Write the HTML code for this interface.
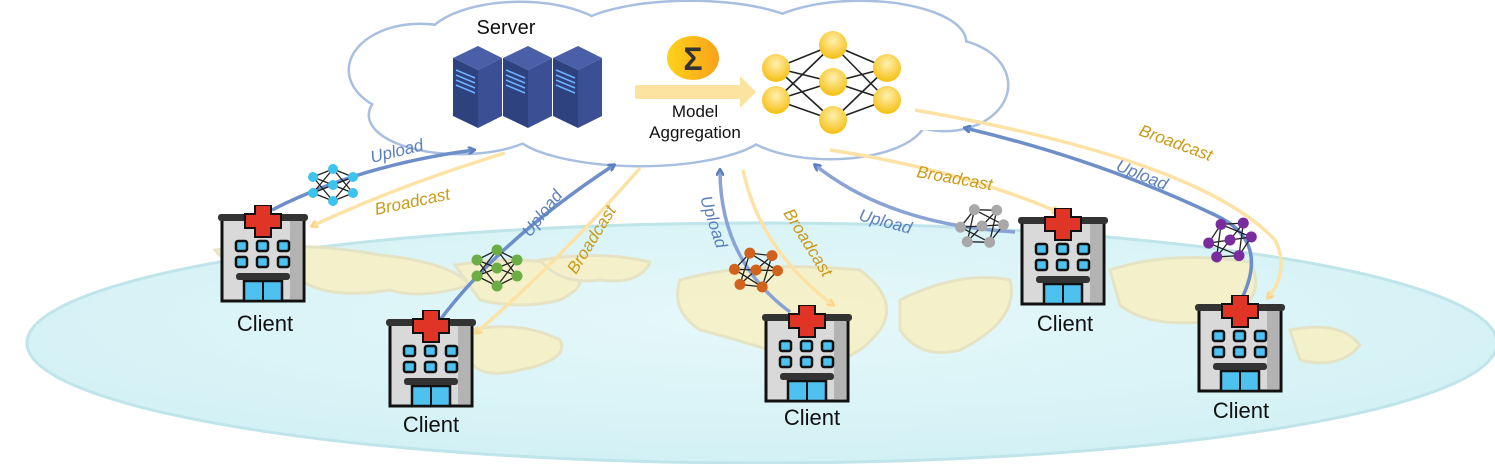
<!DOCTYPE html>
<html><head><meta charset="utf-8"><style>
html,body{margin:0;padding:0;background:#fff;}
svg{display:block;}
text{font-family:"Liberation Sans",sans-serif;}
</style></head><body>
<svg width="1495" height="464" viewBox="0 0 1495 464" xmlns="http://www.w3.org/2000/svg">
<defs>
<radialGradient id="earth" cx="50%" cy="40%" r="60%">
<stop offset="0" stop-color="#e6f8fa"/><stop offset="1" stop-color="#d2f1f5"/>
</radialGradient>
<radialGradient id="node" cx="50%" cy="35%" r="60%">
<stop offset="0" stop-color="#fff0b0"/><stop offset="1" stop-color="#f6c21c"/>
</radialGradient>
<linearGradient id="sig" x1="0" x2="1"><stop offset="0" stop-color="#ffd21a"/><stop offset="1" stop-color="#f7a21a"/></linearGradient>
<marker id="ab" markerWidth="8" markerHeight="8" refX="6" refY="4" orient="auto" markerUnits="userSpaceOnUse"><path d="M0,0 L7,4 L0,8" fill="none" stroke="#5b7fbf" stroke-width="2.5"/></marker>
<marker id="ay" markerWidth="8" markerHeight="8" refX="6" refY="4" orient="auto" markerUnits="userSpaceOnUse"><path d="M0,0 L7,4 L0,8" fill="none" stroke="#fdd58a" stroke-width="2.5"/></marker>
<symbol id="hosp" viewBox="0 0 90 100" width="90" height="100">
<rect x="4" y="12" width="82" height="84" fill="#d9d9d9" stroke="#111" stroke-width="3"/>
<rect x="72" y="14" width="12" height="80" fill="#b3b3b3"/>
<rect x="0" y="9" width="90" height="7" rx="3" fill="#333"/>
<path d="M37,0 h16 v9 h10 v14 h-10 v9 h-16 v-9 h-10 v-14 h10z" fill="#e03526" stroke="#111" stroke-width="2"/>
<g fill="#4fc1ef" stroke="#111" stroke-width="2.5">
<rect x="18" y="36" width="11" height="10" rx="2"/><rect x="39" y="36" width="11" height="10" rx="2"/><rect x="60" y="36" width="11" height="10" rx="2"/>
<rect x="18" y="52" width="11" height="10" rx="2"/><rect x="39" y="52" width="11" height="10" rx="2"/><rect x="60" y="52" width="11" height="10" rx="2"/>
<rect x="26" y="76" width="38" height="20" fill="#4fc1ef"/>
</g>
<rect x="18" y="68" width="54" height="7" rx="3" fill="#333"/>
<line x1="45" y1="76" x2="45" y2="96" stroke="#111" stroke-width="2"/>
</symbol>
</defs>

<!-- earth -->
<ellipse cx="762" cy="343" rx="735" ry="120" fill="url(#earth)" stroke="#bfe4ea" stroke-width="3"/>
<g fill="#f7f1c6" stroke="#e6e2bf" stroke-width="3" opacity="0.9">
<path d="M215,250 Q300,240 380,255 Q450,262 470,285 Q420,300 390,290 Q330,300 300,280 Q240,280 215,250z"/>
<path d="M455,265 Q520,255 560,265 Q600,280 560,300 Q520,310 480,300z"/>
<path d="M540,260 Q600,250 650,262 Q640,285 600,280 Q560,285 540,260z"/>
<path d="M470,330 Q520,320 560,340 Q570,360 520,370 Q480,380 470,360z"/>
<path d="M680,280 Q750,260 860,270 Q900,300 880,330 Q850,370 800,360 Q740,340 700,330 Q670,310 680,280z"/>
<path d="M900,300 Q960,270 1010,280 Q1020,320 960,350 Q920,360 900,330z"/>
<path d="M1110,270 Q1170,250 1250,262 Q1270,300 1220,320 Q1150,330 1120,305z"/>
<path d="M1290,330 Q1340,320 1360,345 Q1340,370 1300,360z"/>
</g>

<!-- cloud -->
<g stroke="#a9bfe0" stroke-width="5" fill="#fff">
<ellipse cx="420" cy="70" rx="70" ry="45"/>
<ellipse cx="520" cy="45" rx="95" ry="42"/>
<ellipse cx="690" cy="38" rx="120" ry="36"/>
<ellipse cx="860" cy="42" rx="105" ry="40"/>
<ellipse cx="945" cy="85" rx="62" ry="45"/>
<ellipse cx="830" cy="118" rx="95" ry="40"/>
<ellipse cx="640" cy="125" rx="130" ry="40"/>
<ellipse cx="460" cy="115" rx="90" ry="38"/>
</g>
<g fill="#fff">
<ellipse cx="420" cy="70" rx="70" ry="45"/>
<ellipse cx="520" cy="45" rx="95" ry="42"/>
<ellipse cx="690" cy="38" rx="120" ry="36"/>
<ellipse cx="860" cy="42" rx="105" ry="40"/>
<ellipse cx="945" cy="85" rx="62" ry="45"/>
<ellipse cx="830" cy="118" rx="95" ry="40"/>
<ellipse cx="640" cy="125" rx="130" ry="40"/>
<ellipse cx="460" cy="115" rx="90" ry="38"/>
<rect x="420" y="50" width="520" height="80"/>
</g>

<!-- server -->
<text x="506" y="34" font-size="20" text-anchor="middle" fill="#111">Server</text>
<g>
<g id="srv">
<polygon points="453,58 478,46 502,58 478,70" fill="#4a5fa8"/>
<polygon points="453,58 478,70 478,128 453,116" fill="#2e4280"/>
<polygon points="478,70 502,58 502,116 478,128" fill="#3b4f94"/>
<g stroke="#6fb0ff" stroke-width="1.6">
<line x1="456" y1="70" x2="475" y2="78"/><line x1="456" y1="75" x2="475" y2="83"/><line x1="456" y1="80" x2="475" y2="88"/><line x1="456" y1="85" x2="475" y2="93"/>
</g>
</g>
<use href="#srv" transform="translate(50,0)"/>
<use href="#srv" transform="translate(100,0)"/>
</g>

<!-- sigma -->
<ellipse cx="693" cy="58" rx="26" ry="22" fill="url(#sig)"/>
<text x="693" y="70" font-size="32" text-anchor="middle" fill="#333" font-weight="bold">Σ</text>
<polygon points="635,85 740,85 740,76 756,92 740,108 740,99 635,99" fill="#fde3a0"/>
<text x="695" y="117" font-size="17" text-anchor="middle" fill="#111">Model</text>
<text x="695" y="138" font-size="17" text-anchor="middle" fill="#111">Aggregation</text>

<!-- NN -->
<g stroke="#222" stroke-width="1.6">
<line x1="776" y1="68" x2="833" y2="45"/><line x1="776" y1="68" x2="833" y2="82"/><line x1="776" y1="68" x2="833" y2="120"/>
<line x1="776" y1="100" x2="833" y2="45"/><line x1="776" y1="100" x2="833" y2="82"/><line x1="776" y1="100" x2="833" y2="120"/>
<line x1="887" y1="68" x2="833" y2="45"/><line x1="887" y1="68" x2="833" y2="82"/><line x1="887" y1="68" x2="833" y2="120"/>
<line x1="887" y1="100" x2="833" y2="45"/><line x1="887" y1="100" x2="833" y2="82"/><line x1="887" y1="100" x2="833" y2="120"/>
</g>
<g fill="url(#node)">
<circle cx="776" cy="68" r="14"/><circle cx="776" cy="100" r="14"/>
<circle cx="833" cy="45" r="14"/><circle cx="833" cy="82" r="14"/><circle cx="833" cy="120" r="14"/>
<circle cx="887" cy="68" r="14"/><circle cx="887" cy="100" r="14"/>
</g>

<!-- arrows -->
<g fill="none" stroke-width="3.5">
<path d="M272,210 Q360,165 474,150" stroke="#6d8ec8" marker-end="url(#ab)"/>
<path d="M505,153 Q400,185 312,226" stroke="#fde2a6" marker-end="url(#ay)"/>
<path d="M440,320 Q500,240 614,165" stroke="#6d8ec8" marker-end="url(#ab)"/>
<path d="M640,168 Q560,260 476,333" stroke="#fde2a6" marker-end="url(#ay)"/>
<path d="M790,312 Q720,260 720,170" stroke="#8aa3d6" marker-end="url(#ab)"/>
<path d="M743,170 Q760,250 833,305" stroke="#fde2a6" marker-end="url(#ay)"/>
<path d="M1015,232 Q890,225 815,165" stroke="#8aa3d6" marker-end="url(#ab)"/>
<path d="M830,150 Q960,170 1058,212" stroke="#fde2a6" marker-end="url(#ay)"/>
<path d="M1242,298 Q1270,240 1215,215 Q1100,160 965,128" stroke="#6d8ec8" marker-end="url(#ab)"/>
<path d="M915,110 Q1200,160 1275,240 Q1290,270 1268,298" stroke="#fde2a6" marker-end="url(#ay)"/>
</g>
<g font-size="17" font-style="italic">
<text transform="translate(372,163) rotate(-14)" fill="#5b7fbf">Upload</text>
<text transform="translate(376,215) rotate(-12)" fill="#c99a1a">Broadcast</text>
<text transform="translate(530,238) rotate(-52)" fill="#5b7fbf">Upload</text>
<text transform="translate(576,275) rotate(-58)" fill="#c99a1a">Broadcast</text>
<text transform="translate(700,198) rotate(72)" fill="#5b7fbf">Upload</text>
<text transform="translate(783,213) rotate(58)" fill="#c99a1a">Broadcast</text>
<text transform="translate(858,220) rotate(15)" fill="#5b7fbf">Upload</text>
<text transform="translate(916,177) rotate(10)" fill="#c99a1a">Broadcast</text>
<text transform="translate(1115,170) rotate(22)" fill="#5b7fbf">Upload</text>
<text transform="translate(1138,135) rotate(20)" fill="#c99a1a">Broadcast</text>
</g>

<!-- small NNs -->
<g transform="translate(333,185)"><g stroke="#222" stroke-width="1.3"><path d="M-20,-8 L0,-16 M-20,-8 L0,0 M-20,-8 L0,16 M-20,8 L0,-16 M-20,8 L0,0 M-20,8 L0,16 M20,-8 L0,-16 M20,-8 L0,0 M20,-8 L0,16 M20,8 L0,-16 M20,8 L0,0 M20,8 L0,16"/></g>
<g fill="#3cc3ef"><circle cx="-20" cy="-8" r="5"/><circle cx="-20" cy="8" r="5"/><circle cx="0" cy="-16" r="5"/><circle cx="0" cy="0" r="5"/><circle cx="0" cy="16" r="5"/><circle cx="20" cy="-8" r="5"/><circle cx="20" cy="8" r="5"/></g></g>
<g transform="translate(497,268)"><g stroke="#222" stroke-width="1.3"><path d="M-20,-8 L0,-18 M-20,-8 L0,0 M-20,-8 L0,18 M-20,8 L0,-18 M-20,8 L0,0 M-20,8 L0,18 M20,-8 L0,-18 M20,-8 L0,0 M20,-8 L0,18 M20,8 L0,-18 M20,8 L0,0 M20,8 L0,18"/></g>
<g fill="#6cae45"><circle cx="-20" cy="-8" r="5.5"/><circle cx="-20" cy="8" r="5.5"/><circle cx="0" cy="-18" r="5.5"/><circle cx="0" cy="0" r="5.5"/><circle cx="0" cy="18" r="5.5"/><circle cx="20" cy="-8" r="5.5"/><circle cx="20" cy="8" r="5.5"/></g></g>
<g transform="translate(756,270) rotate(-20)"><g stroke="#222" stroke-width="1.3"><path d="M-20,-8 L0,-18 M-20,-8 L0,0 M-20,-8 L0,18 M-20,8 L0,-18 M-20,8 L0,0 M-20,8 L0,18 M20,-8 L0,-18 M20,-8 L0,0 M20,-8 L0,18 M20,8 L0,-18 M20,8 L0,0 M20,8 L0,18"/></g>
<g fill="#d0621c"><circle cx="-20" cy="-8" r="5.5"/><circle cx="-20" cy="8" r="5.5"/><circle cx="0" cy="-18" r="5.5"/><circle cx="0" cy="0" r="5.5"/><circle cx="0" cy="18" r="5.5"/><circle cx="20" cy="-8" r="5.5"/><circle cx="20" cy="8" r="5.5"/></g></g>
<g transform="translate(982,226) rotate(-25)"><g stroke="#222" stroke-width="1.3"><path d="M-20,-8 L0,-18 M-20,-8 L0,0 M-20,-8 L0,18 M-20,8 L0,-18 M-20,8 L0,0 M-20,8 L0,18 M20,-8 L0,-18 M20,-8 L0,0 M20,-8 L0,18 M20,8 L0,-18 M20,8 L0,0 M20,8 L0,18"/></g>
<g fill="#a8a8a8"><circle cx="-20" cy="-8" r="5.5"/><circle cx="-20" cy="8" r="5.5"/><circle cx="0" cy="-18" r="5.5"/><circle cx="0" cy="0" r="5.5"/><circle cx="0" cy="18" r="5.5"/><circle cx="20" cy="-8" r="5.5"/><circle cx="20" cy="8" r="5.5"/></g></g>
<g transform="translate(1230,240) rotate(-30)"><g stroke="#222" stroke-width="1.3"><path d="M-20,-8 L0,-18 M-20,-8 L0,0 M-20,-8 L0,18 M-20,8 L0,-18 M-20,8 L0,0 M-20,8 L0,18 M20,-8 L0,-18 M20,-8 L0,0 M20,-8 L0,18 M20,8 L0,-18 M20,8 L0,0 M20,8 L0,18"/></g>
<g fill="#7a2c9e"><circle cx="-20" cy="-8" r="5.5"/><circle cx="-20" cy="8" r="5.5"/><circle cx="0" cy="-18" r="5.5"/><circle cx="0" cy="0" r="5.5"/><circle cx="0" cy="18" r="5.5"/><circle cx="20" cy="-8" r="5.5"/><circle cx="20" cy="8" r="5.5"/></g></g>

<!-- hospitals -->
<use href="#hosp" x="218" y="205" width="90" height="100"/>
<use href="#hosp" x="386" y="310" width="90" height="100"/>
<use href="#hosp" x="762" y="305" width="90" height="100"/>
<use href="#hosp" x="1018" y="208" width="90" height="100"/>
<use href="#hosp" x="1195" y="295" width="90" height="100"/>
<g font-size="22" text-anchor="middle" fill="#111">
<text x="265" y="331">Client</text>
<text x="431" y="432">Client</text>
<text x="812" y="425">Client</text>
<text x="1065" y="331">Client</text>
<text x="1241" y="418">Client</text>
</g>
</svg>
</body></html>
